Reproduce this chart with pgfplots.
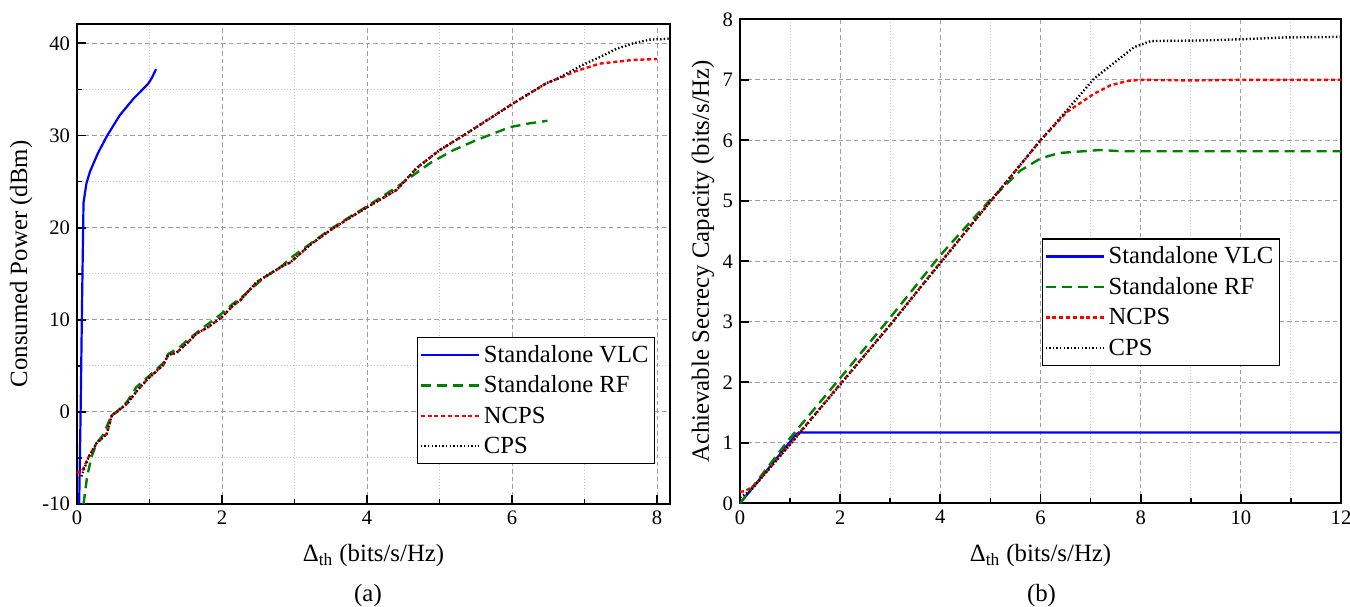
\documentclass[border=0pt]{standalone}
\usepackage{fontspec}
\setmainfont{Liberation Serif}
\usepackage{pgfplots}
\pgfplotsset{compat=1.18}

\definecolor{vlcblue}{RGB}{0,0,255}
\definecolor{rfgreen}{RGB}{0,128,0}
\definecolor{ncpsred}{RGB}{255,0,0}

\pgfplotsset{
  panel/.style={
    scale only axis,
    tick pos=left,
    tick align=inside,
    major tick length=4.5pt,
    minor tick length=2.5pt,
    axis line style={line width=0.9pt},
    tick style={line width=0.9pt, black},
    grid=both,
    major grid style={gray!75, line width=0.45pt, dash pattern=on 2.2pt off 1.6pt},
    minor grid style={gray!45, line width=0.45pt, dash pattern=on 0.6pt off 0.9pt},
    /pgf/number format/assume math mode=true,
    ticklabel style={font=\fontsize{10.3}{12}\selectfont},
    label style={font=\fontsize{12.4}{14}\selectfont},
    xlabel style={at={(axis description cs:0.5,-0.108)}, anchor=center},
    legend cell align=left,
    legend style={font=\fontsize{12.3}{14}\selectfont, draw=black, line width=0.6pt,
      inner xsep=1pt, inner ysep=1.2pt, row sep=0pt,
      nodes={inner ysep=0pt, inner xsep=2pt, text height=11.3pt, text depth=3.9pt}},
    legend image code/.code={\draw[##1] (0pt,0pt) -- (29pt,0pt);},
  },
  vlc/.style={color=vlcblue, line width=1.1pt},
  rf/.style={color=rfgreen, line width=1.2pt, dash pattern=on 5pt off 3pt},
  ncps/.style={color=ncpsred, line width=1.2pt, dash pattern=on 2pt off 1.4pt},
  cps/.style={color=black, line width=1.2pt, dash pattern=on 0.7pt off 1.1pt},
}

\begin{document}
\begin{tikzpicture}
% (a) consumed power
\begin{axis}[
  panel,
  width=296.5pt, height=240pt,
  xmin=0, xmax=8.18, ymin=-10, ymax=42.1,
  xtick={0,2,4,6,8}, minor x tick num=1,
  ytick={-10,0,10,20,30,40}, minor y tick num=1,
  xlabel={Δ\textsubscript{th} (bits/s/Hz)},
  ylabel={Consumed Power (dBm)},
  ylabel style={at={(axis description cs:-0.094,0.5)}, anchor=center},
  legend style={at={(axis description cs:0.975,0.3485)}, anchor=north east},
]
\addplot[vlc] coordinates {
(0.03,-10) (0.05,0) (0.07,12) (0.09,22.7) (0.13,24.8) (0.18,26.1) (0.29,28.1)
(0.41,29.9) (0.59,32.2) (0.78,34.0) (0.98,35.6) (1.03,36.2) (1.09,37.2)
};
\addlegendentry{Standalone VLC}
\addplot[rf] coordinates {
(0.09,-10) (0.14,-7.0) (0.2,-4.9) (0.27,-3.4) (0.36,-2.5) (0.48,-0.3) (0.55,0)
(0.69,1.1) (0.82,2.7) (0.98,3.8) (1.19,5.3) (1.26,6.3) (1.40,6.9) (1.51,7.7)
(1.70,8.9) (1.97,10.5) (2.16,11.8) (2.25,12.3) (2.57,14.5) (2.82,15.8) (2.98,16.9)
(3.21,18.2) (3.49,19.8) (3.81,21.4) (4.0,22.3) (4.41,24.4) (4.64,25.7) (4.87,27.0)
(5.19,28.4) (5.51,29.5) (5.97,30.9) (6.23,31.3) (6.49,31.6)
};
\addlegendentry{Standalone RF}
\addplot[ncps] coordinates {
(0,-6.6) (0.06,-6.6) (0.16,-4.9) (0.27,-3.4) (0.41,-2.4) (0.48,-0.4) (0.55,0)
(0.69,0.9) (0.85,2.5) (0.98,3.6) (1.19,5.1) (1.26,6.2) (1.37,6.4) (1.51,7.4)
(1.65,8.5) (1.81,9.2) (2.0,10.3) (2.16,11.6) (2.25,12.1) (2.48,14.1) (2.85,15.9)
(2.94,16.2) (3.21,18.1) (3.49,19.7) (3.81,21.3) (4.0,22.2) (4.41,24.1) (4.69,26.5)
(5.0,28.4) (5.37,30.2) (6.02,33.5) (6.48,35.7) (6.71,36.4) (6.85,36.9)
(7.21,37.8) (7.67,38.2) (8.0,38.3)
};
\addlegendentry{NCPS}
\addplot[cps] coordinates {
(0.06,-7.0) (0.16,-4.9) (0.27,-3.4) (0.41,-2.4) (0.48,-0.4) (0.55,0)
(0.69,0.9) (0.85,2.5) (0.98,3.6) (1.19,5.1) (1.26,6.2) (1.37,6.4) (1.51,7.4)
(1.65,8.5) (1.81,9.2) (2.0,10.3) (2.16,11.6) (2.25,12.1) (2.48,14.1) (2.85,15.9)
(2.94,16.2) (3.21,18.1) (3.49,19.7) (3.81,21.3) (4.0,22.2) (4.41,24.1) (4.69,26.5)
(5.0,28.4) (5.37,30.2) (6.02,33.5) (6.48,35.7) (6.61,36.1) (6.96,37.6)
(7.21,38.5) (7.44,39.4) (7.67,40.0) (7.9,40.4) (8.16,40.5)
};
\addlegendentry{CPS}
\end{axis}
\node[font=\fontsize{12.4}{14}\selectfont] at (145.5pt,-46pt) {(a)};

% (b) secrecy capacity
\begin{axis}[
  panel,
  at={(331.5pt,0.35pt)},
  width=300.5pt, height=242pt,
  xmin=0, xmax=12, ymin=0, ymax=8,
  xtick={0,2,4,6,8,10,12}, minor x tick num=1,
  ytick={0,1,2,3,4,5,6,7,8},
  xlabel={Δ\textsubscript{th} (bits/s/Hz)},
  ylabel={Achievable Secrecy Capacity (bits/s/Hz)},
  ylabel style={at={(axis description cs:-0.0616,0.5)}, anchor=center},
  legend style={at={(axis description cs:0.502,0.5475)}, anchor=north west},
]
\addplot[vlc] coordinates {
(0,0) (1.12,1.14) (1.17,1.17) (12,1.17)
};
\addlegendentry{Standalone VLC}
\addplot[rf] coordinates {
(0,0) (1,1.08) (2,2.07) (3,3.07) (4,4.1) (5,5.02) (5.6,5.5) (6.0,5.70) (6.37,5.79)
(7.2,5.84) (7.6,5.82) (12,5.82)
};
\addlegendentry{Standalone RF}
\addplot[ncps] coordinates {
(0,0.19) (0.1,0.2) (0.3,0.3) (1,0.98) (2,1.97) (3,2.95) (4,3.98) (5,4.99) (6,6.0)
(6.53,6.47) (7.07,6.77) (7.4,6.91) (7.73,6.98) (8,7.0) (9,6.99) (10,7.0) (11,7.0) (12,7.0)
};
\addlegendentry{NCPS}
\addplot[cps] coordinates {
(0,0.1) (0.2,0.2) (1,0.97) (2,1.96) (3,2.95) (4,3.97) (5,4.99) (6,6.0) (6.53,6.5)
(7.07,7.02) (7.53,7.32) (7.87,7.54) (8.2,7.64) (9.2,7.65) (10,7.67) (10.87,7.70) (12,7.71)
};
\addlegendentry{CPS}
\end{axis}
\node[font=\fontsize{12.4}{14}\selectfont] at (482.25pt,-46pt) {(b)};

\pgfresetboundingbox
\path (-38.5pt,-51pt) rectangle (636.5pt,252pt);
\end{tikzpicture}
\end{document}
